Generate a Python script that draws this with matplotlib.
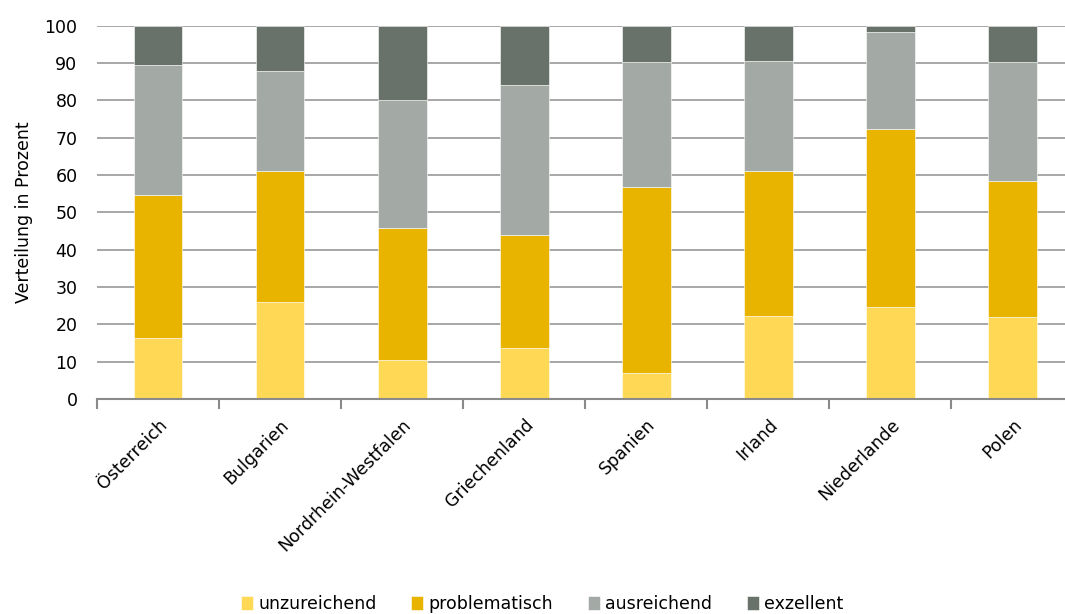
import numpy as np
import matplotlib.pyplot as plt

# data (percent shares, stacked to 100)
regions = ["Österreich", "Bulgarien", "Nordrhein-Westfalen", "Griechenland",
           "Spanien", "Irland", "Niederlande", "Polen"]
unzureichend = [16.4, 26.0, 10.6, 13.7, 7.1, 22.2, 24.6, 21.9]
problematisch = [38.2, 35.1, 35.1, 30.3, 49.7, 38.9, 47.8, 36.5]
ausreichend = [34.9, 26.9, 34.4, 40.1, 33.5, 29.5, 26.0, 31.9]
exzellent = [10.5, 12.0, 19.9, 15.9, 9.7, 9.4, 1.6, 9.7]

series_names = ["unzureichend", "problematisch", "ausreichend", "exzellent"]
colors = ["#FFD955", "#E8B400", "#A3AAA5", "#68726A"]

plt.rcParams["font.family"] = ["DejaVu Sans"]

fig = plt.figure(figsize=(10.65, 6.14), dpi=100)
ax = fig.add_axes([0.091, 0.35, 0.909, 0.608])

x = np.arange(len(regions))
bottom = np.zeros(len(regions))
for name, vals, col in zip(series_names,
                           [unzureichend, problematisch, ausreichend, exzellent],
                           colors):
    ax.bar(x, vals, width=0.4, bottom=bottom, color=col, label=name,
           edgecolor="white", linewidth=0.4, zorder=3)
    bottom += np.array(vals)

ax.set_ylim(0, 100)
ax.set_xlim(-0.5, 7.43)
ax.set_yticks(range(0, 101, 10))
ax.yaxis.grid(True, color="#a0a0a0", linewidth=1.3, zorder=0)
ax.set_axisbelow(True)

for s in ["top", "right", "left"]:
    ax.spines[s].set_visible(False)
ax.spines["bottom"].set_color("#8a8a8a")
ax.spines["bottom"].set_linewidth(1.5)
ax.spines["bottom"].set_zorder(4)

ax.tick_params(axis="y", length=0, pad=14, labelsize=12.5)
ax.set_xticks(x)
ax.set_xticklabels(regions, rotation=45, ha="right", rotation_mode="anchor",
                   fontsize=12.5)
ax.tick_params(axis="x", which="major", length=0, pad=12)
ax.set_xticks(np.arange(-0.5, 7.5, 1), minor=True)
ax.tick_params(axis="x", which="minor", length=7, width=1.5, color="#8a8a8a")

ax.set_ylabel("Verteilung in Prozent", fontsize=12.5, labelpad=8)

ax.legend(loc="lower center", bbox_to_anchor=(0.46, -0.615), ncol=4,
          frameon=False, fontsize=12.5, handlelength=0.7, handleheight=0.9,
          handletextpad=0.3, columnspacing=2.0)

fig.savefig("out.png", dpi=100)
